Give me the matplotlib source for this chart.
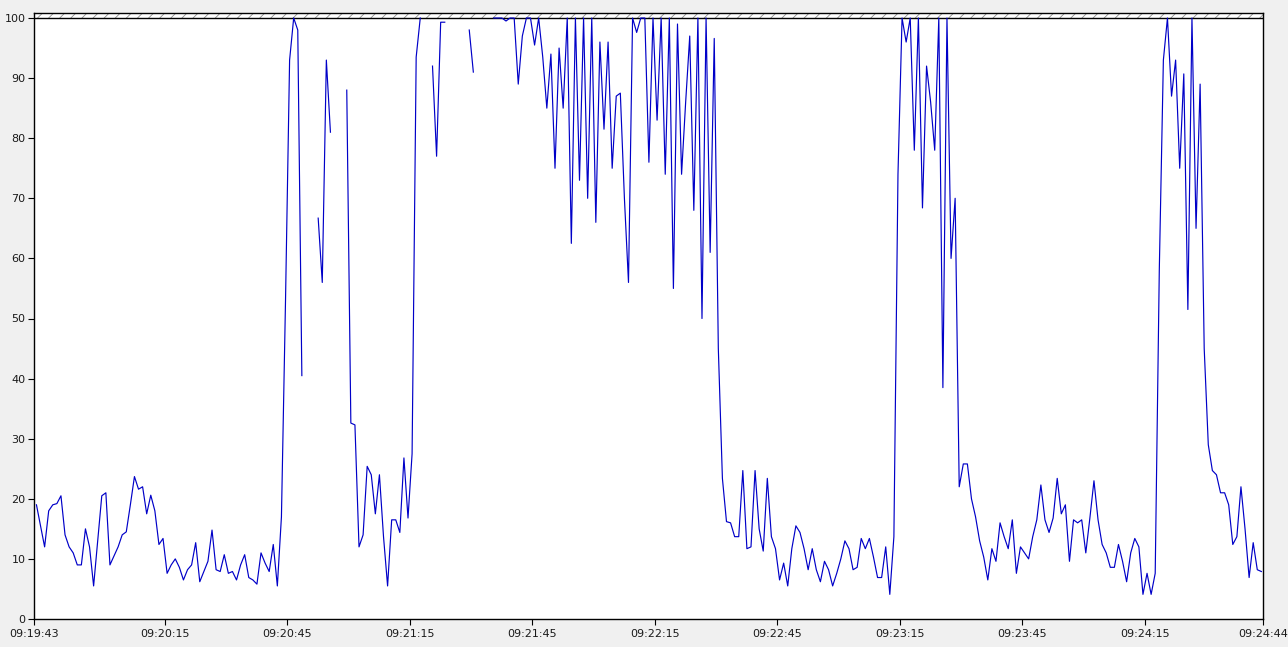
import numpy as np
import matplotlib
matplotlib.use("Agg")
import matplotlib.pyplot as plt
import matplotlib as mpl

nan = np.nan

# ---- data ----
start_time = "09:19:43"          # left end of the time axis
sample_offset_s = 0.6            # first sample, seconds after start_time
sample_interval_s = 1.0
cpu_values = [
    19, 15.5, 12, 18, 19, 19.2, 20.5, 14, 12, 11,
    9, 9, 15, 12, 5.5, 13, 20.5, 21, 9, 10.5,
    12, 14, 14.5, 19, 23.7, 21.6, 22, 17.5, 20.6, 18,
    12.4, 13.4, 7.6, 9, 10, 8.6, 6.5, 8.2, 9, 12.7,
    6.2, 7.9, 9.6, 14.8, 8.2, 7.9, 10.7, 7.6, 7.9, 6.5,
    9, 10.7, 6.9, 6.5, 5.8, 11, 9.3, 7.9, 12.4, 5.5,
    17, 53, 93, 100, 98, 40.5, nan, nan, nan, 66.7,
    56, 93, 81, nan, nan, nan, 88, 32.6, 32.3, 12,
    14, 25.4, 24, 17.5, 24, 13.7, 5.5, 16.5, 16.5, 14.4,
    26.8, 16.8, 27.5, 93.5, 100, nan, nan, 92, 77, 99.3,
    99.3, nan, nan, nan, nan, nan, 98, 91, nan, nan,
    nan, nan, 100, 100, 100, 99.5, 100, 100, 89, 97,
    100, 100, 95.5, 100, 93.5, 85, 94, 75, 95, 85,
    100, 62.5, 100, 73, 100, 70, 100, 66, 96, 81.5,
    96, 75, 87, 87.5, 70, 56, 100, 97.6, 100, 100,
    76, 100, 83, 100, 74, 100, 55, 99, 74, 86,
    97, 68, 100, 50, 100, 61, 96.6, 45, 23.4, 16.2,
    16, 13.7, 13.7, 24.7, 11.7, 12, 24.7, 15, 11.3, 23.4,
    13.7, 11.7, 6.5, 9.3, 5.5, 11.7, 15.5, 14.4, 11.7, 8.2,
    11.7, 8.2, 6.2, 9.6, 8.2, 5.5, 7.6, 10, 13, 11.7,
    8.2, 8.6, 13.4, 11.7, 13.4, 10.3, 6.9, 6.9, 12, 4.1,
    13.7, 74, 100, 96, 100, 78, 100, 68.4, 92, 86,
    78, 100, 38.5, 100, 60, 70, 22, 25.8, 25.8, 20,
    17, 13, 10.3, 6.5, 11.7, 9.6, 16, 13.7, 11.7, 16.5,
    7.6, 12, 11, 10, 13.7, 16.5, 22.3, 16.5, 14.4, 16.8,
    23.4, 17.5, 19, 9.6, 16.5, 16, 16.5, 11, 16.8, 23,
    16.5, 12.4, 11, 8.6, 8.6, 12.4, 9.6, 6.2, 11, 13.4,
    12, 4.1, 7.6, 4.1, 7.6, 58, 93, 100, 87, 93,
    75, 90.7, 51.5, 100, 65, 89, 45, 29, 24.7, 24,
    21, 21, 19, 12.4, 13.7, 22, 15, 6.9, 12.7, 8.2,
    7.9,
]
axis_span_s = 301
tick_labels = ["09:19:43", "09:20:15", "09:20:45", "09:21:15", "09:21:45",
               "09:22:15", "09:22:45", "09:23:15", "09:23:45", "09:24:15",
               "09:24:44"]
y_ticks = [0, 10, 20, 30, 40, 50, 60, 70, 80, 90, 100]


def to_seconds(hms):
    h, m, s = (int(p) for p in hms.split(":"))
    return h * 3600 + m * 60 + s


t0 = to_seconds(start_time)
tick_pos = [to_seconds(lbl) - t0 for lbl in tick_labels]
times = sample_offset_s + sample_interval_s * np.arange(len(cpu_values))
vals = np.array(cpu_values, dtype=float)

# ---- figure ----
W, H = 1288, 647
fig = plt.figure(figsize=(W / 100, H / 100), dpi=100, facecolor="#f0f0f0")
left_px, right_px = 34, 1263
bottom_px, top_px = 619, 13     # top_px: top of the hatched strip
y100_px = 18
ax = fig.add_axes([left_px / W, (H - bottom_px) / H,
                   (right_px - left_px) / W, (bottom_px - top_px) / H])
ax.set_facecolor("white")

ymax = 100 * (bottom_px - top_px) / (bottom_px - y100_px)
ax.set_xlim(0, axis_span_s)
ax.set_ylim(0, ymax)

mpl.rcParams['hatch.linewidth'] = 0.6
ax.axhspan(100, ymax, facecolor="white", edgecolor="#8c8c8c", hatch="///",
           linewidth=0, zorder=1)
ax.axhline(100, color="black", linewidth=1.0, zorder=2)

ax.plot(times, vals, color="#0000c8", linewidth=0.85, zorder=3)

for sp in ax.spines.values():
    sp.set_color("black")
    sp.set_linewidth(1.0)

ax.set_yticks(y_ticks)
ax.set_yticklabels([str(v) for v in y_ticks])
ax.set_xticks(tick_pos)
ax.set_xticklabels(tick_labels)
ax.tick_params(axis="both", direction="out", length=4, width=0.8,
               color="black", labelsize=8, labelcolor="#1a1a1a", pad=2)
ax.tick_params(axis="x", pad=3)

fig.savefig("out.png", dpi=100, facecolor=fig.get_facecolor())
